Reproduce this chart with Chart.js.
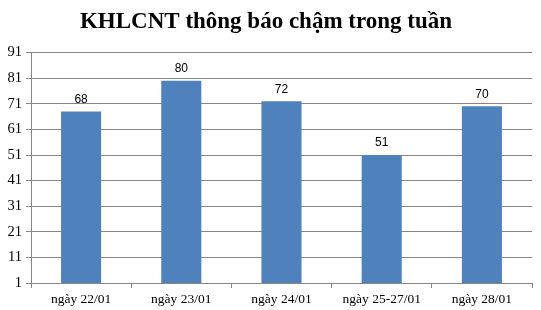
<!DOCTYPE html>
<html>
<head>
<meta charset="utf-8">
<script src="https://cdn.jsdelivr.net/npm/chart.js@4"></script>
<style>
  html, body { margin: 0; padding: 0; background: #fff; }
  #wrap { width: 541px; height: 310px; }
</style>
</head>
<body>
<div id="wrap"><canvas id="chart" width="541" height="310"></canvas></div>
<script>
// categories and values
const days = ['ngày 22/01', 'ngày 23/01', 'ngày 24/01', 'ngày 25-27/01', 'ngày 28/01'];
const lateCounts = [68, 80, 72, 51, 70];
const yTicks = [1, 11, 21, 31, 41, 51, 61, 71, 81, 91];

// writes the number above each bar
const barLabels = {
  id: 'barLabels',
  afterDatasetsDraw(chart) {
    const ctx = chart.ctx;
    const meta = chart.getDatasetMeta(0);
    ctx.save();
    ctx.font = '12px "Liberation Sans", Arial, sans-serif';
    ctx.fillStyle = '#000';
    ctx.textAlign = 'center';
    ctx.textBaseline = 'bottom';
    meta.data.forEach((bar, i) => {
      ctx.fillText(lateCounts[i], bar.x, bar.y - 6);
    });
    ctx.restore();
  }
};

const serif = '"Liberation Serif", "Times New Roman", serif';

const canvas = document.getElementById('chart');
new Chart(canvas, {
  type: 'bar',
  data: {
    labels: days,
    datasets: [{
      data: lateCounts,
      backgroundColor: '#4F81BD',
      categoryPercentage: 1,
      barPercentage: 0.4
    }]
  },
  options: {
    responsive: false,
    animation: false,
    layout: { padding: { left: 0, right: 9, top: 0, bottom: 0 } },
    plugins: {
      legend: { display: false },
      tooltip: { enabled: false },
      title: {
        display: true,
        text: 'KHLCNT thông báo chậm trong tuần',
        color: '#000',
        font: { family: serif, size: 23, weight: 'bold' },
        padding: { top: 8, bottom: 17 }
      }
    },
    scales: {
      x: {
        afterFit(scale) { scale.height = 27; },
        grid: { display: true, drawOnChartArea: false, drawTicks: true, tickLength: 5, color: '#868686', offset: true },
        border: { color: '#868686' },
        ticks: {
          color: '#000',
          padding: 3,
          maxRotation: 0,
          font: { family: serif, size: 13.5 }
        }
      },
      y: {
        min: yTicks[0],
        max: yTicks[yTicks.length - 1],
        afterBuildTicks(scale) {
          scale.ticks = yTicks.map(v => ({ value: v }));
        },
        afterFit(scale) { scale.width = 31; },
        grid: { color: '#868686', tickLength: 5 },
        border: { color: '#868686' },
        ticks: {
          color: '#000',
          padding: 4,
          font: { family: serif, size: 14.5 }
        }
      }
    }
  },
  plugins: [barLabels]
});
</script>
</body>
</html>
